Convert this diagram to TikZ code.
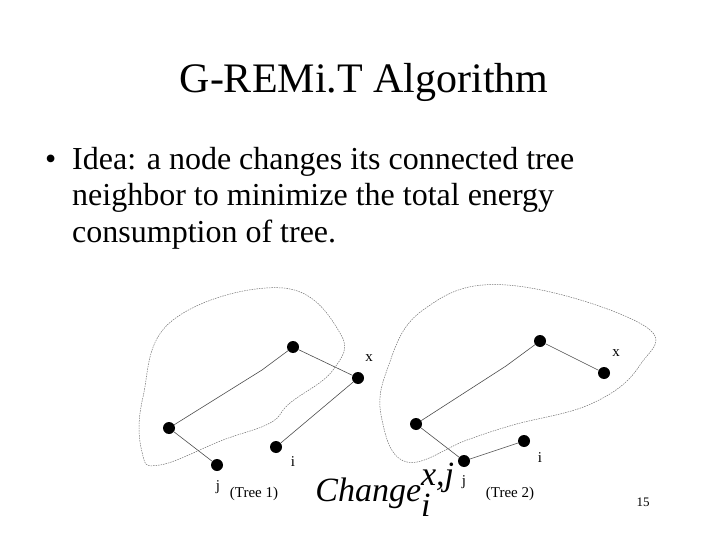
\documentclass[tikz,border=0pt]{standalone}
\usepackage{fontspec}
\setmainfont{Liberation Serif}
\begin{document}
\begin{tikzpicture}[x=1pt,y=-1pt,
  dot/.style={circle,fill=black,inner sep=0pt,minimum size=12pt},
  edge/.style={draw=black!70,line width=0.6pt},
  loop/.style={draw=black!55,dash pattern=on 1.5pt off 1pt,line width=0.5pt},
  lbl/.style={font=\fontsize{15}{15}\selectfont},
  btxt/.style={anchor=base west,inner sep=0pt,font=\fontsize{32}{32}\selectfont}]
\useasboundingbox (0,0) rectangle (720,540);
\node (title) at (364,82) {\fontsize{42}{44}\selectfont G-REMi.T Algorithm};
\node[btxt] (b0) at (45,170) {•};
\node[btxt] (b1) at (72,170) {Idea: a node changes its connected tree};
\node[btxt] (b2) at (72,206) {neighbor to minimize the total energy};
\node[btxt] (b3) at (72,242) {consumption of tree.};
% Tree 1
\draw[loop] plot[smooth cycle,tension=0.7] coordinates {(283,288) (340,333) (333,370) (290,403) (270,423) (223,440) (160,465) (142,452) (143,397) (173,320)};
\node[dot] (a1) at (293,347) {};
\node[dot] (x1) at (358,378) {};
\node[dot] (l1) at (169,428) {};
\node[dot] (j1) at (217,465) {};
\node[dot] (i1) at (276,447) {};
\draw[edge] (l1) -- (262,370) -- (a1);
\draw[edge] (l1) -- (j1);
\draw[edge] (a1) -- (x1);
\draw[edge] (x1) -- (i1);
\node[lbl] (lx1) at (369,358) {x};
\node[lbl] (li1) at (293,462) {i};
\node[lbl] (lj1) at (218,487) {j};
\node[lbl] (t1) at (254,494) {(Tree 1)};
% Tree 2
\draw[loop] plot[smooth cycle,tension=0.7] coordinates {(507,285) (643,325) (640,365) (593,403) (513,425) (467,440) (407,462) (382,420) (387,370) (423,310)};
\node[dot] (a2) at (540,341) {};
\node[dot] (x2) at (604,373) {};
\node[dot] (l2) at (416,424) {};
\node[dot] (j2) at (464,461) {};
\node[dot] (i2) at (524,441) {};
\draw[edge] (l2) -- (506,366) -- (a2);
\draw[edge] (l2) -- (j2);
\draw[edge] (j2) -- (i2);
\draw[edge] (a2) -- (x2);
\node[lbl] (lx2) at (616,353) {x};
\node[lbl] (li2) at (540,458) {i};
\node[lbl] (lj2) at (464,482) {j};
\node[lbl] (t2) at (510,494) {(Tree 2)};
\node (ch) at (385,490) {\fontsize{34}{34}\selectfont\itshape Change$_{\textit{i}}^{\textit{x,j}}$};
\node (pg) at (643,502) {\fontsize{13}{13}\selectfont 15};
\end{tikzpicture}
\end{document}
